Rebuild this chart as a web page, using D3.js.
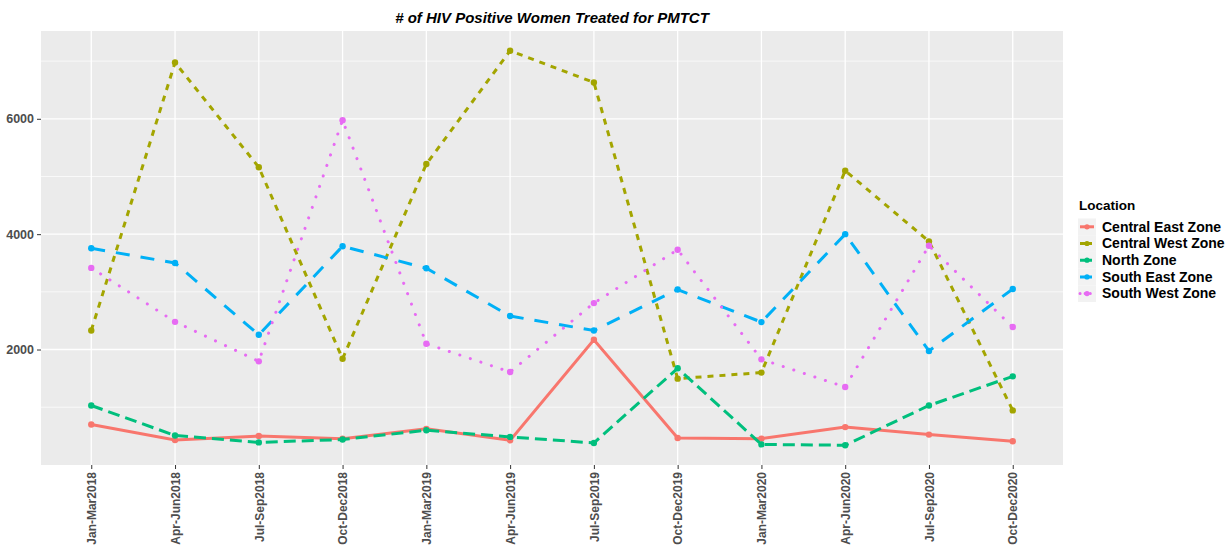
<!DOCTYPE html>
<html>
<head>
<meta charset="utf-8">
<script src="https://cdn.jsdelivr.net/npm/d3@7"></script>
<style>
  body { margin: 0; background: #fff; }
  svg { display: block; font-family: "Liberation Sans", Arial, sans-serif; }
</style>
</head>
<body>
<div id="chart"></div>
<script>
// quarters on the x axis
var quarters = ["Jan-Mar2018", "Apr-Jun2018", "Jul-Sep2018", "Oct-Dec2018",
                "Jan-Mar2019", "Apr-Jun2019", "Jul-Sep2019", "Oct-Dec2019",
                "Jan-Mar2020", "Apr-Jun2020", "Jul-Sep2020", "Oct-Dec2020"];

var locations = ["Central East Zone", "Central West Zone", "North Zone", "South East Zone", "South West Zone"];

// values
var centralEast = [700, 430, 500, 455, 625, 425, 2170, 465, 455, 655, 525, 410];
var centralWest = [2330, 6975, 5160, 1840, 5215, 7180, 6630, 1495, 1600, 5100, 3875, 945];
var northZone   = [1030, 510, 390, 440, 600, 485, 380, 1675, 355, 340, 1030, 1535];
var southEast   = [3755, 3500, 2255, 3790, 3410, 2580, 2330, 3040, 2475, 4000, 1975, 3050];
var southWest   = [3415, 2480, 1795, 5975, 2100, 1610, 2805, 3730, 1830, 1350, 3800, 2390];

var yTicks = [2000, 4000, 6000];
var yMinor = [1000, 3000, 5000, 7000];

var seriesValues = [centralEast, centralWest, northZone, southEast, southWest];
var colors = ["#F8766D", "#A3A500", "#00BF7D", "#00B0F6", "#E76BF3"];
var dashes = [null, "6,6", "12,6", "14,11", "0.1,11"];

var width = 1231, height = 545;
var panel = {left: 41, right: 1063, top: 31, bottom: 465};

var svg = d3.select("#chart").append("svg")
    .attr("width", width)
    .attr("height", height);

// ggplot-like expansion: discrete 0.6 units, continuous 5%
var xScale = d3.scalePoint()
    .domain(quarters)
    .range([panel.left, panel.right])
    .padding(0.6);

var allVals = [].concat.apply([], seriesValues);
var yMin = d3.min(allVals), yMax = d3.max(allVals);
var yPad = (yMax - yMin) * 0.05;
var yScale = d3.scaleLinear()
    .domain([yMin - yPad, yMax + yPad])
    .range([panel.bottom, panel.top]);

// panel background
svg.append("rect")
    .attr("x", panel.left).attr("y", panel.top)
    .attr("width", panel.right - panel.left)
    .attr("height", panel.bottom - panel.top)
    .style("fill", "#EBEBEB");

var grid = svg.append("g");
grid.selectAll(".minor").data(yMinor).enter().append("line")
    .attr("x1", panel.left).attr("x2", panel.right)
    .attr("y1", function(d) { return yScale(d); })
    .attr("y2", function(d) { return yScale(d); })
    .style("stroke", "#fff").style("stroke-width", 0.7);
grid.selectAll(".major").data(yTicks).enter().append("line")
    .attr("x1", panel.left).attr("x2", panel.right)
    .attr("y1", function(d) { return yScale(d); })
    .attr("y2", function(d) { return yScale(d); })
    .style("stroke", "#fff").style("stroke-width", 1.3);
grid.selectAll(".xgrid").data(quarters).enter().append("line")
    .attr("x1", function(d) { return xScale(d); })
    .attr("x2", function(d) { return xScale(d); })
    .attr("y1", panel.top).attr("y2", panel.bottom)
    .style("stroke", "#fff").style("stroke-width", 1.3);

// axes
var yAxis = svg.append("g")
    .attr("transform", "translate(" + panel.left + ",0)")
    .call(d3.axisLeft(yScale).tickValues(yTicks).tickSize(4).tickPadding(3).tickFormat(d3.format("d")));
var xAxis = svg.append("g")
    .attr("transform", "translate(0," + panel.bottom + ")")
    .call(d3.axisBottom(xScale).tickSize(4).tickPadding(3));

[yAxis, xAxis].forEach(function(ax) {
    ax.select(".domain").remove();
    ax.selectAll(".tick line").style("stroke", "#333").style("stroke-width", 1);
    ax.selectAll(".tick text")
        .style("fill", "#4D4D4D")
        .style("font-size", "12px")
        .style("font-weight", "bold")
        .style("font-family", "'Liberation Sans', Arial, sans-serif");
});
yAxis.selectAll(".tick text").style("font-size", "12.5px");

xAxis.selectAll(".tick text")
    .attr("transform", "rotate(-90)")
    .attr("x", -7)
    .attr("y", 0)
    .attr("dy", "0.35em")
    .style("text-anchor", "end");

// lines and points
var line = d3.line()
    .x(function(d, i) { return xScale(quarters[i]); })
    .y(function(d) { return yScale(d); });

var series = svg.append("g").selectAll("g")
    .data(seriesValues).enter().append("g");

series.append("path")
    .attr("d", function(d) { return line(d); })
    .style("fill", "none")
    .style("stroke", function(d, i) { return colors[i]; })
    .style("stroke-width", 3)
    .style("stroke-linecap", function(d, i) { return i === 4 ? "round" : "butt"; })
    .style("stroke-dasharray", function(d, i) { return dashes[i]; });

series.each(function(vals, i) {
    d3.select(this).selectAll("circle")
        .data(vals).enter().append("circle")
        .attr("cx", function(d, j) { return xScale(quarters[j]); })
        .attr("cy", function(d) { return yScale(d); })
        .attr("r", 3.2)
        .style("fill", colors[i]);
});

// title
svg.append("text")
    .attr("x", (panel.left + panel.right) / 2)
    .attr("y", 23)
    .attr("text-anchor", "middle")
    .style("font-size", "15px")
    .style("font-weight", "bold")
    .style("font-style", "italic")
    .text("# of HIV Positive Women Treated for PMTCT");

// legend
var legend = svg.append("g").attr("transform", "translate(1078,0)");
legend.append("text")
    .attr("x", 1).attr("y", 210)
    .style("font-size", "13.5px")
    .style("font-weight", "bold")
    .text("Location");

var item = legend.selectAll(".item").data(locations).enter().append("g")
    .attr("transform", function(d, i) { return "translate(0," + (218.5 + i * 16.7) + ")"; });
item.append("rect")
    .attr("width", 18).attr("height", 16.7)
    .style("fill", "#F2F2F2");
item.append("line")
    .attr("x1", 2).attr("x2", 16)
    .attr("y1", 8.3).attr("y2", 8.3)
    .style("stroke", function(d, i) { return colors[i]; })
    .style("stroke-width", 3)
    .style("stroke-linecap", function(d, i) { return i === 4 ? "round" : "butt"; })
    .style("stroke-dasharray", function(d, i) { return i === 4 ? "0.1,5" : (i === 0 ? null : "5,2"); });
item.append("circle")
    .attr("cx", 9).attr("cy", 8.3).attr("r", 2.6)
    .style("fill", function(d, i) { return colors[i]; });
item.append("text")
    .attr("x", 24).attr("y", 8.3).attr("dy", "0.35em")
    .style("font-size", "14px")
    .style("font-weight", "bold")
    .text(function(d) { return d; });
</script>
</body>
</html>
